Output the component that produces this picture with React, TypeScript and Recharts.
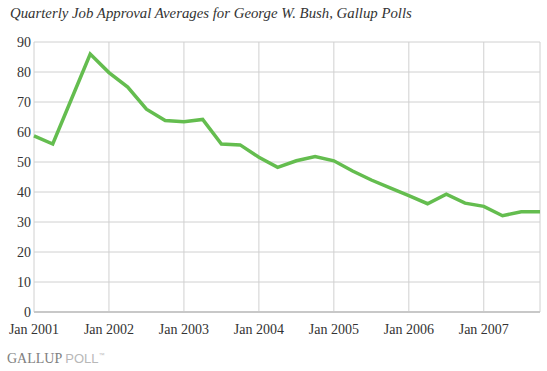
import { LineChart, Line, XAxis, YAxis, CartesianGrid } from "recharts";

// quarterly averages, Q1 2001 .. Q4 2007
const quarters = [
  "Q1 2001", "Q2 2001", "Q3 2001", "Q4 2001",
  "Q1 2002", "Q2 2002", "Q3 2002", "Q4 2002",
  "Q1 2003", "Q2 2003", "Q3 2003", "Q4 2003",
  "Q1 2004", "Q2 2004", "Q3 2004", "Q4 2004",
  "Q1 2005", "Q2 2005", "Q3 2005", "Q4 2005",
  "Q1 2006", "Q2 2006", "Q3 2006", "Q4 2006",
  "Q1 2007", "Q2 2007", "Q3 2007", "Q4 2007",
];
const approval = [
  58.7, 56, 71, 86,
  79.8, 75, 67.6, 63.8,
  63.4, 64.2, 56, 55.7,
  51.6, 48.2, 50.4, 51.8,
  50.4, 47, 44, 41.4,
  38.8, 36.1, 39.3, 36.3,
  35.2, 32.1, 33.4, 33.4,
];
const yearTicks = [0, 4, 8, 12, 16, 20, 24];
const yearLabels = ["Jan 2001", "Jan 2002", "Jan 2003", "Jan 2004", "Jan 2005", "Jan 2006", "Jan 2007"];
const yTicks = [0, 10, 20, 30, 40, 50, 60, 70, 80, 90];

const data = quarters.map((q, i) => ({ idx: i, quarter: q, approval: approval[i] }));

const serif = "'Liberation Serif', 'DejaVu Serif', serif";

function XTick(props: any) {
  const { x, y, payload } = props;
  return (
    <text x={x} y={y + 22} textAnchor="middle" fontSize={14} fill="#333" fontFamily={serif}>
      {yearLabels[yearTicks.indexOf(payload.value)] ?? ""}
    </text>
  );
}

function YTick(props: any) {
  const { x, y, payload } = props;
  return (
    <text x={x + 2} y={y + 4.5} textAnchor="end" fontSize={14} fill="#333" fontFamily={serif}>
      {payload.value}
    </text>
  );
}

export default function App() {
  return (
    <div
      style={{
        position: "absolute",
        left: 0,
        top: 0,
        width: 547,
        height: 371,
        background: "#fff",
        fontFamily: serif,
      }}
    >
      <div
        style={{
          position: "absolute",
          left: 10,
          top: 5,
          fontStyle: "italic",
          fontSize: 14.8,
          color: "#333",
          whiteSpace: "nowrap",
        }}
      >
        Quarterly Job Approval Averages for George W. Bush, Gallup Polls
      </div>
      <LineChart
        width={547}
        height={371}
        data={data}
        margin={{ top: 42, right: 7, left: 0, bottom: 29 }}
      >
        <CartesianGrid stroke="#d0d0d0" strokeWidth={1} />
        <XAxis
          dataKey="idx"
          type="number"
          domain={[0, 27]}
          ticks={yearTicks}
          height={30}
          axisLine={{ stroke: "#c8c8c8", strokeWidth: 2 }}
          tickLine={false}
          tickSize={0}
          tickMargin={0}
          interval={0}
          tick={<XTick />}
        />
        <YAxis
          domain={[0, 90]}
          ticks={yTicks}
          width={34}
          axisLine={false}
          tickLine={false}
          tickSize={4}
          tickMargin={1}
          tick={<YTick />}
        />
        <Line
          type="linear"
          dataKey="approval"
          stroke="#64bd4f"
          strokeWidth={3.5}
          dot={false}
          isAnimationActive={false}
        />
      </LineChart>
      <div
        style={{
          position: "absolute",
          left: 7,
          top: 351,
          fontSize: 14,
          whiteSpace: "nowrap",
        }}
      >
        <span style={{ color: "#808080" }}>GALLUP</span>
        <span style={{ fontFamily: "'Liberation Sans', sans-serif", color: "#b8b8b8", marginLeft: 3, fontSize: 13 }}>POLL</span>
        <sup style={{ fontFamily: "'Liberation Sans', sans-serif", color: "#bbb", fontSize: 6 }}>™</sup>
      </div>
    </div>
  );
}
